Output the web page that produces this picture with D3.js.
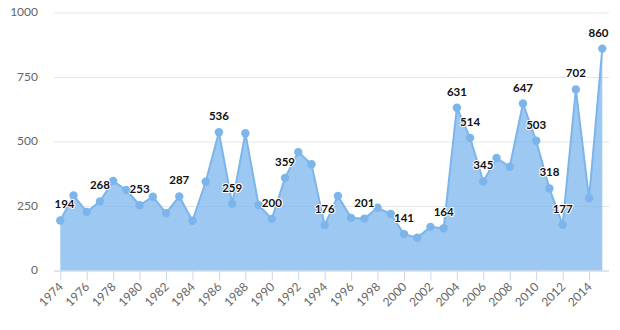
<!DOCTYPE html>
<html>
<head>
<meta charset="utf-8">
<script src="https://cdn.jsdelivr.net/npm/d3@7"></script>
<style>
  html, body { margin: 0; padding: 0; background: #fff; }
  svg { display: block; font-family: Lato, "Open Sans", sans-serif; }
</style>
</head>
<body>
<svg id="chart" width="620" height="330"></svg>
<script>
// Yearly counts, 1974–2015
const years = d3.range(1974, 2016);
const counts = [
  194, 291, 227, 268, 347, 312, 253, 286, 222, 287,
  193, 344, 536, 259, 532, 254, 200, 359, 459, 412,
  176, 289, 204, 201, 243, 219, 141, 127, 169, 164,
  631, 514, 345, 436, 402, 647, 503, 318, 177, 702,
  280, 860
];
// Years whose value is printed above the point
const labelledYears = [
  1974, 1977, 1980, 1983, 1986, 1987, 1990, 1991, 1994, 1997, 2000,
  2003, 2004, 2005, 2006, 2009, 2010, 2011, 2012, 2013, 2015
];
const yTicks = [0, 250, 500, 750, 1000];
const xTicks = d3.range(1974, 2016, 2);

const data = years.map((yr, i) => ({ year: yr, value: counts[i] }));

const svg = d3.select("#chart");
const plotLeft = 54, plotRight = 609, plotTop = 12.5, plotBottom = 270.5;

const x = d3.scaleLinear().domain([1974, 2015]).range([60.3, 602.3]);
const y = d3.scaleLinear().domain([0, 1000]).range([plotBottom, plotTop]);

// Horizontal grid lines and y labels
const yAxis = d3.axisLeft(y).tickValues(yTicks).tickFormat(d3.format("d"))
  .tickSize(-(plotRight - plotLeft)).tickPadding(16);
const gy = svg.append("g").attr("transform", `translate(${plotLeft},0)`).call(yAxis);
gy.select(".domain").remove();
gy.selectAll(".tick line").attr("stroke", "#e6e6e6").attr("stroke-width", 1);
gy.selectAll(".tick text")
  .attr("fill", "#666").attr("font-size", 12).attr("font-family", "Lato, sans-serif")
  .attr("dy", "0.25em");

// Area and line
const area = d3.area().x(d => x(d.year)).y0(y(0)).y1(d => y(d.value));
const line = d3.line().x(d => x(d.year)).y(d => y(d.value));

svg.append("path").datum(data).attr("d", area)
  .attr("fill", "#7cb5ec").attr("fill-opacity", 0.75);
svg.append("path").datum(data).attr("d", line)
  .attr("fill", "none").attr("stroke", "#7cb5ec").attr("stroke-width", 2)
  .attr("stroke-linejoin", "round");

// X axis with ticks every two years and rotated labels
const xAxis = d3.axisBottom(x).tickValues(xTicks).tickFormat(d3.format("d")).tickSize(10).tickSizeOuter(0);
const gx = svg.append("g").attr("transform", `translate(0,${plotBottom})`).call(xAxis);
gx.select(".domain").attr("d", `M${plotLeft},0.5H${plotRight}`).attr("stroke", "#ccd6eb");
gx.selectAll(".tick line").attr("stroke", "#ccd6eb");
gx.selectAll(".tick text")
  .attr("fill", "#666").attr("font-size", 12).attr("font-family", "Lato, sans-serif")
  .attr("text-anchor", "end")
  .attr("dy", 0).attr("y", 0)
  .attr("transform", "translate(3,17) rotate(-45)");

// Points
svg.append("g").selectAll("circle").data(data).join("circle")
  .attr("cx", d => x(d.year)).attr("cy", d => y(d.value)).attr("r", 4.2)
  .attr("fill", "#7cb5ec");

// Value labels, kept inside the plot horizontally
const half = 10.5;
svg.append("g").selectAll("text")
  .data(data.filter(d => labelledYears.includes(d.year)))
  .join("text")
  .attr("x", d => Math.max(plotLeft + half, Math.min(plotRight - half, x(d.year))))
  .attr("y", d => y(d.value) - 12)
  .attr("text-anchor", "middle")
  .attr("font-size", 11.5).attr("font-weight", "bold")
  .attr("fill", "#111")
  .attr("stroke", "#fff").attr("stroke-width", 2).attr("paint-order", "stroke")
  .attr("stroke-linejoin", "round")
  .text(d => d.value);
</script>
</body>
</html>
